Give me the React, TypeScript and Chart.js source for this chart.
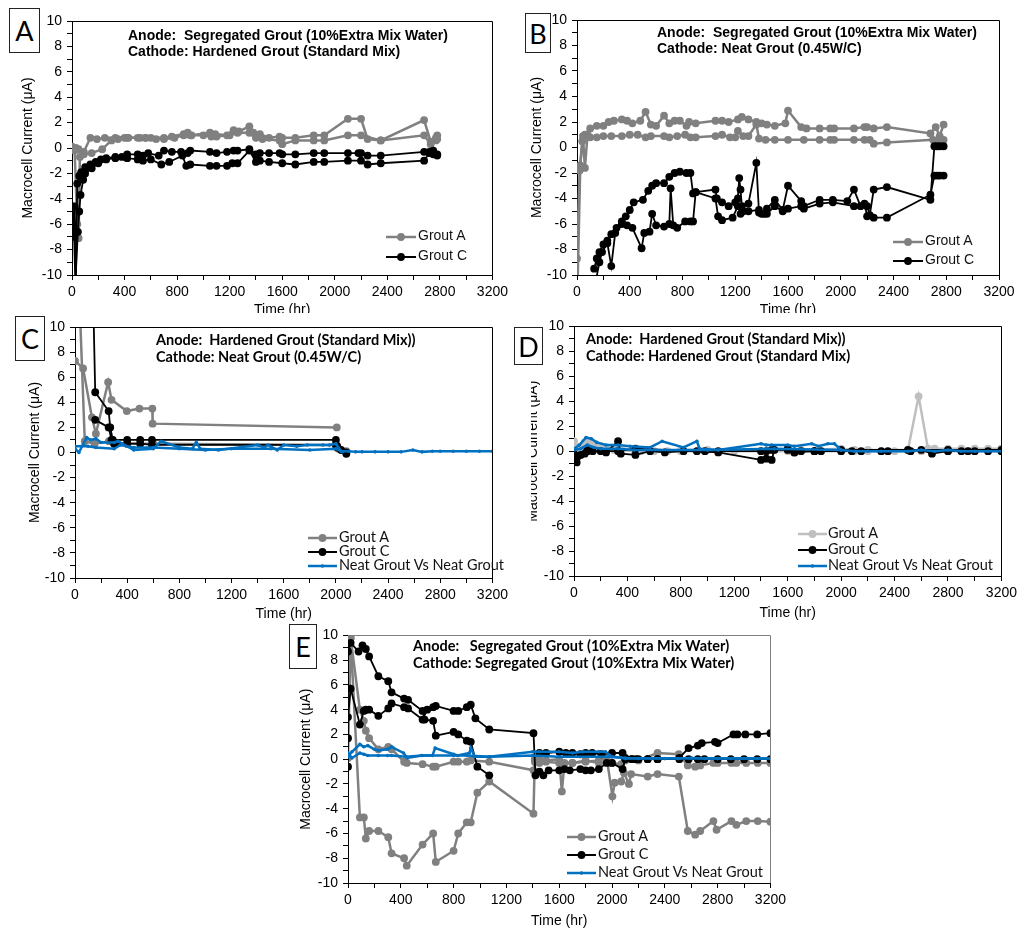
import React, { useEffect, useRef } from 'react';
import { Chart, registerables } from 'chart.js';
Chart.register(...registerables);

type Pt = [number, number | null];

// ---------- Axis ticks ----------
const X_TICK_STEP = 200;
const X_LABEL_EVERY = 400;
const Y_TICK_STEP = 1;
const Y_LABEL_EVERY = 2;

// ---------- Panel A ----------
const A_GROUT_A_1: Pt[] = [[0,0],[30,0],[50,-0.1],[90,-0.3],[140,0.8],[190,0.7],[250,0.8],[330,0.8],[400,0.8],[430,0.8],[520,0.8],[560,0.8],[600,0.8],[700,0.8],[760,0.9],[850,1.1],[880,1.2],[910,1.0],[1050,1.2],[1090,1.1],[1180,1.0],[1230,1.4],[1270,1.3],[1350,1.7],[1380,1.2],[1430,1.1],[1500,0.8],[1580,0.9],[1600,0.8],[1700,0.8],[1840,1.0],[1920,1.0],[2100,2.3],[2200,2.3],[2250,0.7],[2350,0.6],[2680,2.2],[2730,0.5],[2770,0.8],[2780,1.0]];
const A_GROUT_A_2: Pt[] = [[0,0.1],[20,-0.2],[40,-6.0],[50,-7.1],[60,-0.7],[90,-0.5],[150,-0.4],[230,-0.1],[300,0.6],[350,0.7],[420,0.8],[500,0.8],[560,0.8],[640,0.7],[700,0.7],[780,0.8],[850,1.0],[900,1.0],[1000,1.0],[1060,0.9],[1100,0.9],[1200,1.0],[1260,1.2],[1350,1.2],[1400,0.8],[1450,0.7],[1580,0.6],[1600,0.3],[1700,0.6],[1840,0.6],[1920,0.6],[2100,1.0],[2200,1.0],[2350,0.6],[2680,1.0],[2730,0.3],[2770,0.6],[2780,0.7]];
const A_GROUT_C_1: Pt[] = [[5,-7.0],[10,-6.1],[20,-4.6],[30,-10.5],[40,-2.8],[55,-2.2],[70,-1.9],[100,-1.5],[140,-1.3],[180,-1.1],[220,-0.9],[260,-0.8],[330,-0.7],[380,-0.7],[420,-0.5],[500,-0.5],[540,-0.6],[580,-0.4],[660,-0.6],[700,-0.2],[760,-0.3],[830,-0.3],[880,-0.4],[900,-0.2],[1050,-0.3],[1100,-0.4],[1180,-0.3],[1230,-0.2],[1260,-0.2],[1350,-0.1],[1400,-0.5],[1430,-0.4],[1500,-0.4],[1580,-0.4],[1600,-0.5],[1700,-0.5],[1840,-0.4],[1920,-0.4],[2100,-0.4],[2180,-0.4],[2200,-0.4],[2250,-0.6],[2350,-0.6],[2680,-0.3],[2720,-0.3],[2750,-0.2],[2780,-0.6]];
const A_GROUT_C_2: Pt[] = [[5,-4.6],[15,-6.5],[25,-10.5],[45,-6.6],[55,-5.0],[65,-3.7],[85,-2.5],[100,-2.0],[150,-1.6],[200,-1.2],[260,-0.9],[330,-0.8],[420,-0.8],[500,-0.9],[540,-1.0],[600,-0.9],[680,-1.3],[740,-1.1],[840,-0.6],[870,-1.4],[900,-1.3],[1050,-1.4],[1100,-1.4],[1180,-1.4],[1220,-1.2],[1260,-1.2],[1350,-0.2],[1400,-1.1],[1430,-1.0],[1500,-1.1],[1600,-1.2],[1700,-1.3],[1840,-1.1],[1920,-1.1],[2100,-1.0],[2200,-1.0],[2250,-1.3],[2350,-1.2],[2680,-1.0],[2720,-0.4],[2750,-0.5],[2780,-0.5]];

// ---------- Panel B ----------
const B_GROUT_A_1: Pt[] = [[0,-8.7],[20,-1.8],[40,0.5],[60,1.0],[100,1.5],[150,1.7],[200,1.7],[240,2.0],[280,2.1],[340,2.2],[380,2.1],[420,1.9],[480,2.1],[520,2.8],[560,1.8],[600,1.7],[660,2.5],[700,1.9],[740,2.1],[780,2.1],[830,1.7],[850,2.0],[900,1.9],[1050,2.1],[1100,2.1],[1150,2.0],[1220,2.2],[1250,2.4],[1300,2.2],[1360,2.0],[1400,1.9],[1440,1.8],[1500,1.7],[1580,1.9],[1600,2.9],[1700,1.6],[1740,1.5],[1840,1.5],[1920,1.5],[1950,1.5],[2100,1.5],[2180,1.6],[2200,1.6],[2250,1.5],[2350,1.6],[2680,1.1],[2720,1.6],[2750,0.9],[2780,1.8]];
const B_GROUT_A_2: Pt[] = [[5,-10.5],[25,-1.4],[45,0.9],[60,-1.6],[80,1.0],[100,0.8],[150,0.8],[200,0.9],[260,0.9],[340,0.9],[400,1.0],[460,1.0],[520,0.8],[560,0.9],[660,0.9],[700,0.8],[760,0.9],[820,1.0],[860,0.8],[900,0.8],[1050,0.9],[1100,1.0],[1160,0.8],[1200,0.8],[1220,1.3],[1260,0.9],[1300,0.9],[1360,1.8],[1380,0.7],[1430,0.6],[1500,0.6],[1600,0.6],[1720,0.6],[1840,0.6],[1920,0.6],[1950,0.6],[2100,0.6],[2180,0.6],[2220,0.6],[2250,0.3],[2350,0.4],[2700,0.6],[2750,0.6],[2780,0.6]];
const B_GROUT_C_1: Pt[] = [[130,-9.5],[150,-8.7],[170,-8.2],[200,-7.6],[230,-7.3],[260,-6.8],[300,-6.3],[340,-5.8],[370,-5.4],[400,-4.9],[430,-4.3],[500,-4.1],[540,-3.4],[570,-3.0],[600,-2.8],[660,-2.8],[700,-2.3],[740,-2.0],[780,-1.9],[830,-2.0],[860,-2.0],[880,-3.6],[900,-3.5],[1050,-3.3],[1060,-4.0],[1100,-4.3],[1150,-4.6],[1200,-4.3],[1220,-4.0],[1230,-2.4],[1240,-3.3],[1250,-4.6],[1300,-4.4],[1360,-1.2],[1380,-5.1],[1420,-5.2],[1440,-4.8],[1500,-4.1],[1560,-4.9],[1600,-3.0],[1700,-4.2],[1720,-4.6],[1840,-4.1],[1940,-4.1],[2050,-4.2],[2100,-3.3],[2150,-4.6],[2200,-4.6],[2220,-5.3],[2250,-3.3],[2350,-3.1],[2680,-4.1],[2710,0.1],[2730,0.1],[2750,0.1],[2780,0.1]];
const B_GROUT_C_2: Pt[] = [[140,-10.6],[170,-9.0],[190,-8.2],[230,-7.5],[260,-9.3],[290,-6.7],[340,-6.0],[380,-6.1],[420,-6.3],[490,-7.9],[510,-6.7],[550,-6.6],[570,-5.2],[600,-6.1],[660,-6.2],[700,-6.0],[710,-3.2],[730,-6.1],[760,-6.3],[820,-5.8],[860,-5.8],[880,-5.8],[900,-3.5],[1050,-4.0],[1070,-5.4],[1100,-5.7],[1180,-5.5],[1220,-4.6],[1240,-5.2],[1260,-5.0],[1300,-5.0],[1380,-4.9],[1400,-5.2],[1440,-5.2],[1500,-4.6],[1560,-5.0],[1600,-4.8],[1700,-4.6],[1720,-4.8],[1840,-4.4],[1940,-4.3],[2100,-4.6],[2180,-4.4],[2200,-5.4],[2250,-5.5],[2350,-5.5],[2680,-3.7],[2710,-2.2],[2730,-2.2],[2750,-2.2],[2780,-2.2]];

// ---------- Panel C ----------
const C_GROUT_A_1: Pt[] = [[0,7.3],[62,6.7],[130,2.8],[160,1.5],[254,5.6],[280,4.2],[397,3.3],[494,3.5],[593,3.5],[595,2.3],[2007,2.0]];
const C_GROUT_A_2: Pt[] = [[35,12],[75,0.9],[150,0.7],[260,0.9],[300,0.7],[600,0.7],[2000,0.6],[2020,0.3],[2080,0.1]];
const C_GROUT_C_1: Pt[] = [[140,12],[155,4.8],[258,3.3],[270,2.0],[290,1.0],[400,1.0],[500,1.0],[590,1.0],[2000,1.0],[2010,0.4],[2040,0.2],[2080,0.0]];
const C_GROUT_C_2: Pt[] = [[155,2.6],[258,2.0],[280,1.0],[300,0.7],[400,0.7],[500,0.7],[590,0.6],[2000,0.6],[2010,0.5],[2080,-0.1]];
const C_NEAT_1: Pt[] = [[0,0.3],[30,0.0],[90,1.2],[120,1.0],[160,1.1],[200,0.8],[300,0.8],[330,0.9],[450,0.2],[600,0.3],[660,0.9],[800,0.4],[900,0.3],[930,0.8],[960,0.3],[1100,0.2],[1400,0.6],[1450,0.4],[1480,0.6],[1550,0.2],[1600,0.6],[1700,0.5],[1780,0.6],[1900,0.6],[1950,0.6],[2000,0.7],[2040,0.1],[2100,0.1],[2150,0.05],[2200,0.05],[2300,0.05],[2400,0.05],[2500,0.05],[2590,0.2],[2660,0.05],[2740,0.1],[2800,0.1],[2900,0.1],[3000,0.1],[3100,0.1],[3200,0.1]];
const C_NEAT_2: Pt[] = [[0,0.5],[50,0.5],[100,0.5],[160,0.4],[300,0.3],[350,0.6],[450,0.4],[600,0.4],[800,0.3],[1000,0.2],[1200,0.3],[1500,0.3],[1800,0.2],[2000,0.3],[2050,0.05]];

// ---------- Panel D ----------
const D_GROUT_A_1: Pt[] = [[0,0.8],[30,0.3],[80,0.7],[120,0.8],[160,0.6],[200,0.4],[330,0.3],[450,0.1],[600,0.0],[700,0.0],[800,0.1],[1000,0.1],[1500,0.1],[1700,0.1],[2000,0.2],[2100,0.1],[2200,0.1],[2500,0.1],[2580,4.4],[2650,0.2],[2700,0.2],[2800,0.2],[2900,0.2],[3000,0.2],[3100,0.2],[3200,0.2]];
const D_GROUT_A_2: Pt[] = [[0,0.2],[50,0.2],[100,0.3],[200,0.2],[300,0.1],[500,0.0],[800,0.0],[1200,0.0],[1600,0.0],[2000,0.0],[2100,0.0],[2200,0.0],[2300,0.0],[2400,0.0],[2600,0.0],[2800,0.0],[3000,0.0],[3200,0.0]];
const D_GROUT_C_1: Pt[] = [[0,-0.5],[20,-0.9],[50,-0.3],[80,-0.2],[100,0.1],[140,0.0],[240,-0.1],[330,0.8],[350,-0.2],[460,-0.3],[570,0.0],[680,-0.1],[820,0.0],[920,0.0],[980,0.0],[1080,0.0],[1400,0.0],[1440,0.0],[1480,0.1],[1600,0.1],[1650,-0.1],[1700,0.0],[1800,0.0],[1850,0.0],[2000,0.0],[2080,0.0],[2150,0.0],[2300,0.0],[2350,0.0],[2520,0.0],[2600,0.1],[2680,-0.2],[2800,0.0],[2900,0.0],[2950,0.0],[3000,0.0],[3100,0.0],[3200,0.0]];
const D_GROUT_C_2: Pt[] = [[0,-0.2],[30,-0.4],[100,0.0],[200,0.0],[330,0.0],[460,0.2],[1080,-0.1],[1400,-0.7],[1440,-0.6],[1480,-0.7],[1500,0.1],[1600,0.2],[1650,-0.1],[1800,0.0],[2000,0.1],[2500,0.1],[2800,0.1],[3200,0.1]];
const D_NEAT_1: Pt[] = [[0,0.2],[40,0.5],[90,1.1],[130,1.0],[170,0.7],[240,0.5],[330,0.5],[420,0.4],[570,0.3],[660,0.8],[820,0.3],[920,0.8],[940,0.2],[1080,0.1],[1400,0.6],[1440,0.5],[1480,0.5],[1600,0.5],[1650,0.4],[1780,0.6],[1830,0.4],[1900,0.6],[1950,0.6],[2000,0.1],[2100,0.0],[2200,0.0],[2300,0.0],[2500,0.0],[2600,0.1],[2700,0.0],[2800,0.1],[2900,0.0],[3000,0.0],[3100,0.0],[3200,0.0]];
const D_NEAT_2: Pt[] = [[0,0.1],[50,0.2],[100,0.5],[150,0.3],[200,0.2],[330,0.2],[450,0.1],[1000,0.1],[1500,0.2],[2000,0.1]];

// ---------- Panel E ----------
const E_GROUT_A_1: Pt[] = [[0,0.1],[20,9.8],[90,-4.7],[120,-4.7],[135,-6.4],[160,-5.8],[230,-5.8],[305,-6.3],[330,-7.6],[425,-8.0],[445,-8.6],[565,-6.9],[645,-6.0],[665,-8.3],[800,-7.4],[835,-6.0],[900,-5.1],[930,-5.1],[980,-2.7],[1070,-1.8],[1405,-4.4],[1415,0.0],[1450,0.0],[1500,-0.1],[1600,0.0],[1620,-2.6],[1640,-0.3],[1700,-0.3],[1800,-0.2],[1900,-0.1],[1960,0.1],[2003,-3.0],[2020,-1.9],[2070,-1.8],[2090,-1.1],[2128,-2.0],[2145,-1.2],[2270,-1.4],[2345,-1.2],[2506,-1.4],[2574,-5.8],[2630,-6.1],[2668,-5.8],[2768,-5.0],[2792,-5.7],[2905,-5.0],[2942,-5.3],[3017,-5.0],[3104,-5.0],[3200,-5.05]];
const E_GROUT_A_2: Pt[] = [[20,9.8],[90,4.0],[120,3.1],[135,2.3],[160,1.7],[230,0.8],[305,1.0],[330,0.8],[425,-0.2],[445,-0.3],[565,-0.4],[645,-0.6],[665,-0.6],[800,-0.2],[835,-0.2],[900,-0.2],[930,-0.1],[1070,-0.2],[1405,-0.9],[1415,-0.2],[1450,-0.3],[1500,-0.2],[1600,-0.3],[1700,-0.3],[1800,-0.1],[1900,-0.3],[2000,-0.3],[2070,-0.4],[2100,-0.1],[2200,-0.1],[2345,0.5],[2506,0.4],[2574,-0.5],[2630,-0.6],[2668,-0.5],[2768,-0.3],[2800,-0.3],[2905,-0.3],[2942,-0.3],[3017,-0.3],[3104,-0.3],[3200,-0.3]];
const E_GROUT_C_1: Pt[] = [[0,1.7],[0,8.7],[20,9.4],[80,8.7],[110,9.2],[135,8.9],[160,8.3],[230,6.7],[305,6.3],[330,5.4],[425,4.9],[455,4.8],[565,3.9],[580,3.2],[645,3.1],[665,1.9],[800,2.2],[835,2.0],[900,1.5],[930,1.4],[980,-0.6],[1070,-1.3],[1260,null],[1450,0.5],[1500,0.5],[1600,0.6],[1650,0.5],[1700,0.5],[1760,0.4],[1800,0.5],[1850,0.5],[1920,0.4],[2000,0.5],[2080,0.5],[2100,0.1],[2150,0.0],[2180,0.0],[2270,0.0],[2345,0.0],[2510,0.1],[2580,0.9],[2650,1.1],[2680,1.3],[2780,1.4],[2800,1.3],[2920,2.0],[2950,2.0],[3010,2.0],[3100,2.0],[3200,2.1]];
const E_GROUT_C_2: Pt[] = [[0,-0.6],[0,3.4],[20,5.7],[90,2.8],[120,3.9],[135,4.0],[160,4.0],[230,3.5],[305,4.1],[330,4.5],[425,4.2],[455,4.1],[565,3.2],[600,4.0],[645,4.2],[665,4.3],[800,3.9],[835,3.9],[900,4.2],[930,4.4],[965,3.3],[1070,2.4],[1405,2.1],[1420,-1.3],[1450,-1.0],[1480,-1.3],[1520,-0.9],[1600,-0.9],[1640,-0.8],[1680,-0.9],[1760,-0.8],[1800,-0.9],[1840,-0.9],[1900,-0.8],[1960,-0.3],[2000,-0.3],[2080,-0.8],[2100,0.0],[2150,0.0],[2200,0.0],[2270,0.0],[2345,0.0],[2510,0.0],[2580,0.0],[2650,0.0],[2700,0.0],[2800,0.0],[2900,0.0],[3000,0.0],[3100,0.0],[3200,0.0]];
const E_NEAT_1: Pt[] = [[0,0.2],[30,0.6],[90,1.2],[120,1.0],[150,1.1],[200,0.8],[230,0.7],[300,0.8],[330,1.0],[420,0.5],[450,0.1],[560,0.3],[640,0.3],[660,0.9],[800,0.4],[830,0.3],[920,0.5],[930,0.9],[960,0.2],[1070,0.2],[1400,0.6],[1450,0.6],[1600,0.6],[1700,0.5],[1780,0.6],[1900,0.6],[1950,0.6],[2000,0.2],[2100,0.05],[2200,0.05],[2300,0.05],[2400,0.05],[2500,0.05],[2600,0.1],[2700,0.05],[2800,0.05],[2900,0.05],[3000,0.05],[3100,0.05],[3200,0.05]];
const E_NEAT_2: Pt[] = [[0,0.5],[30,0.1],[90,0.5],[120,0.4],[150,0.3],[230,0.3],[300,0.3],[330,0.3],[440,0.2],[560,0.3],[800,0.3],[900,0.3],[1070,0.2],[1400,0.3],[1600,0.2],[2000,0.2],[2100,0.1],[3200,0.05]];

// ---------- Labels ----------
const X_TITLE = 'Time (hr)';
const Y_TITLE = 'Macrocell Current (μA)';
const LABEL_GROUT_A = 'Grout A';
const LABEL_GROUT_C = 'Grout C';
const LABEL_NEAT = 'Neat Grout Vs Neat Grout';

const GRAY = '#808080';
const LIGHT_GRAY = '#bfbfbf';
const BLACK = '#000000';
const BLUE = '#0070C0';

const ARIAL = '"Liberation Sans", Arial, sans-serif';
const CALIBRI = 'Lato, "Open Sans", sans-serif';
const FS = 14;
const LH = FS * 1.2;

interface Series { data: Pt[]; color: string; r: number; lw: number; order: number }
interface Rect { x: number; y: number; w: number; h: number }
interface Panel {
  z: number;
  canvas: Rect;
  plot: { l: number; t: number; r: number; b: number };
  yTitleX: number;
  xTitleY: number;
  frame: string;
  series: Series[];
}

const gA = (d: Pt[], c = GRAY): Series => ({ data: d, color: c, r: 3.9, lw: 2.5, order: 3 });
const gC = (d: Pt[]): Series => ({ data: d, color: BLACK, r: 3.9, lw: 1.8, order: 2 });
const gN = (d: Pt[]): Series => ({ data: d, color: BLUE, r: 1.8, lw: 2.5, order: 1 });

const PANELS: Record<string, Panel> = {
  A: { z: 1, canvas: { x: 0, y: 0, w: 512, h: 330 }, plot: { l: 72, t: 21, r: 493, b: 275 }, yTitleX: 28, xTitleY: 310, frame: '#000',
    series: [gC(A_GROUT_C_1), gC(A_GROUT_C_2), gA(A_GROUT_A_1), gA(A_GROUT_A_2)] },
  B: { z: 2, canvas: { x: 515, y: 0, w: 506, h: 330 }, plot: { l: 577, t: 20, r: 999, b: 275 }, yTitleX: 537, xTitleY: 310, frame: '#000',
    series: [gC(B_GROUT_C_1), gC(B_GROUT_C_2), gA(B_GROUT_A_1), gA(B_GROUT_A_2)] },
  C: { z: 3, canvas: { x: 0, y: 313, w: 512, h: 317 }, plot: { l: 75, t: 327, r: 507, b: 578 }, yTitleX: 35, xTitleY: 614, frame: '#000',
    series: [gN(C_NEAT_1), gN(C_NEAT_2), gC(C_GROUT_C_1), gC(C_GROUT_C_2), gA(C_GROUT_A_1), gA(C_GROUT_A_2)] },
  D: { z: 4, canvas: { x: 518, y: 313, w: 503, h: 317 }, plot: { l: 574, t: 326, r: 1004, b: 576 }, yTitleX: 533, xTitleY: 613, frame: '#000',
    series: [gN(D_NEAT_1), gN(D_NEAT_2), gC(D_GROUT_C_1), gC(D_GROUT_C_2), gA(D_GROUT_A_1, LIGHT_GRAY), gA(D_GROUT_A_2, LIGHT_GRAY)] },
  E: { z: 5, canvas: { x: 290, y: 622, w: 500, h: 315 }, plot: { l: 348, t: 631, r: 776, b: 883 }, yTitleX: 306, xTitleY: 921, frame: '#7f7f7f',
    series: [gN(E_NEAT_1), gN(E_NEAT_2), gC(E_GROUT_C_1), gC(E_GROUT_C_2), gA(E_GROUT_A_1), gA(E_GROUT_A_2)] },
};

const bgPlugin = {
  id: 'whiteBg',
  beforeDraw(chart: any) {
    const { ctx, width, height } = chart;
    ctx.save();
    ctx.fillStyle = '#ffffff';
    ctx.fillRect(0, 0, width, height);
    ctx.restore();
  },
};

const framePlugin = {
  id: 'frame',
  afterDraw(chart: any, _args: any, opts: any) {
    const { ctx, chartArea: a } = chart;
    ctx.save();
    ctx.strokeStyle = opts.color || '#000';
    ctx.lineWidth = 1;
    ctx.beginPath();
    const t = Math.round(a.top) + 0.5;
    const r = Math.round(a.right) + 0.5;
    ctx.moveTo(a.left, t);
    ctx.lineTo(r, t);
    ctx.lineTo(r, a.bottom);
    ctx.stroke();
    ctx.restore();
  },
};

function PanelChart({ p }: { p: Panel }) {
  const ref = useRef<HTMLCanvasElement>(null);
  useEffect(() => {
    const scaleLeft = p.yTitleX - 4 - LH / 2;
    const padLeft = scaleLeft - p.canvas.x;
    const yWidth = p.plot.l - scaleLeft;
    const padTop = p.plot.t - p.canvas.y;
    const padRight = p.canvas.x + p.canvas.w - p.plot.r;
    const xBottom = p.xTitleY + 4 + LH / 2;
    const xHeight = xBottom - p.plot.b;
    const padBottom = p.canvas.y + p.canvas.h - xBottom;
    const axisGrid = { display: true, drawOnChartArea: false, drawTicks: true, tickLength: 5, color: '#000', tickColor: '#000', lineWidth: 1 };
    const chart = new Chart(ref.current!, {
      type: 'line',
      data: {
        datasets: p.series.map((s) => ({
          data: s.data.map(([x, y]) => ({ x, y })),
          borderColor: s.color,
          backgroundColor: s.color,
          pointBackgroundColor: s.color,
          pointBorderColor: s.color,
          pointBorderWidth: 0,
          pointRadius: s.r,
          pointHoverRadius: s.r,
          borderWidth: s.lw,
          tension: 0,
          fill: false,
          spanGaps: false,
          order: s.order,
        })),
      },
      options: {
        animation: false,
        responsive: false,
        maintainAspectRatio: false,
        events: [],
        layout: { padding: { left: padLeft, top: padTop, right: padRight, bottom: padBottom }, autoPadding: false } as any,
        plugins: { legend: { display: false }, tooltip: { enabled: false }, frame: { color: p.frame } } as any,
        scales: {
          x: {
            type: 'linear', min: 0, max: 3200, offset: false,
            afterFit: (s: any) => { s.height = xHeight; },
            ticks: { stepSize: X_TICK_STEP, autoSkip: false, maxRotation: 0, minRotation: 0, padding: 4, color: '#000', font: { family: ARIAL, size: FS },
              callback: (v: any) => (Number(v) % X_LABEL_EVERY === 0 ? String(v) : '') },
            grid: axisGrid,
            border: { display: true, color: '#000', width: 1 },
            title: { display: true, text: X_TITLE, color: '#000', font: { family: ARIAL, size: FS }, padding: { top: 4, bottom: 4 } },
          },
          y: {
            type: 'linear', min: -10, max: 10,
            afterFit: (s: any) => { s.width = yWidth; },
            ticks: { stepSize: Y_TICK_STEP, autoSkip: false, padding: 5, color: '#000', font: { family: ARIAL, size: FS },
              callback: (v: any) => (Math.round(Number(v)) % Y_LABEL_EVERY === 0 ? String(v) : '') },
            grid: axisGrid,
            border: { display: true, color: '#000', width: 1 },
            title: { display: true, text: Y_TITLE, color: '#000', font: { family: ARIAL, size: FS }, padding: { top: 4, bottom: 4 } },
          },
        } as any,
      },
      plugins: [bgPlugin, framePlugin],
    } as any);
    return () => chart.destroy();
  }, []);
  return (
    <canvas ref={ref} width={p.canvas.w} height={p.canvas.h}
      style={{ position: 'absolute', left: p.canvas.x, top: p.canvas.y, width: p.canvas.w, height: p.canvas.h, zIndex: p.z * 10 }} />
  );
}

function BoxLabel({ text, x, y, w, h, z }: { text: string; x: number; y: number; w: number; h: number; z: number }) {
  return (
    <div style={{ position: 'absolute', left: x, top: y, width: w, height: h, boxSizing: 'border-box', border: '1.3px solid #222',
      background: '#fff', zIndex: z, display: 'flex', alignItems: 'center', justifyContent: 'center',
      font: `400 27px ${CALIBRI}`, color: '#000' }}>{text}</div>
  );
}

function Note({ lines, x, y1, lh, font, z }: { lines: string[]; x: number; y1: number; lh: number; font: string; z: number }) {
  return (
    <div style={{ position: 'absolute', left: x, top: y1 - lh / 2, zIndex: z, font, lineHeight: `${lh}px`, whiteSpace: 'pre', color: '#000' }}>
      {lines.map((l, i) => <div key={i}>{l}</div>)}
    </div>
  );
}

interface LegItem { label: string; color: string; r: number; lw: number }
function Legend({ items, symX, symW, textX, rows, font, z }: { items: LegItem[]; symX: number; symW: number; textX: number; rows: number[]; font: string; z: number }) {
  return (
    <>
      {items.map((it, i) => (
        <React.Fragment key={i}>
          <svg style={{ position: 'absolute', left: symX, top: rows[i] - 6, zIndex: z }} width={symW} height={12}>
            <line x1={0} y1={6} x2={symW} y2={6} stroke={it.color} strokeWidth={it.lw} />
            <circle cx={symW / 2} cy={6} r={it.r} fill={it.color} />
          </svg>
          <div style={{ position: 'absolute', left: textX, top: rows[i] - 10, height: 20, lineHeight: '20px', zIndex: z, font, color: '#111', whiteSpace: 'pre' }}>{it.label}</div>
        </React.Fragment>
      ))}
    </>
  );
}

const LEG_A: LegItem = { label: LABEL_GROUT_A, color: GRAY, r: 3.9, lw: 2.5 };
const LEG_A_LIGHT: LegItem = { label: LABEL_GROUT_A, color: LIGHT_GRAY, r: 3.9, lw: 2.5 };
const LEG_C: LegItem = { label: LABEL_GROUT_C, color: BLACK, r: 3.9, lw: 2 };
const LEG_N: LegItem = { label: LABEL_NEAT, color: BLUE, r: 1.8, lw: 2.5 };

const NOTE_ARIAL = `bold ${FS}px ${ARIAL}`;
const NOTE_CAL = `bold 14.5px ${CALIBRI}`;
const LEG_ARIAL = `${FS}px ${ARIAL}`;
const LEG_CAL = `14.5px ${CALIBRI}`;

export default function App() {
  return (
    <div style={{ position: 'absolute', left: 0, top: 0, width: 1021, height: 930, background: '#fff', overflow: 'hidden' }}>
      {/* A */}
      <PanelChart p={PANELS.A} />
      <BoxLabel text="A" x={9} y={8} w={31} h={45} z={11} />
      <Note lines={['Anode:  Segregated Grout (10%Extra Mix Water)', 'Cathode: Hardened Grout (Standard Mix)']} x={128} y1={35} lh={16.7} font={NOTE_ARIAL} z={11} />
      <Legend items={[LEG_A, LEG_C]} symX={386} symW={30} textX={418} rows={[237, 257]} font={LEG_ARIAL} z={11} />
      {/* B */}
      <PanelChart p={PANELS.B} />
      <BoxLabel text="B" x={525} y={13} w={26} h={40} z={21} />
      <Note lines={['Anode:  Segregated Grout (10%Extra Mix Water)', 'Cathode: Neat Grout (0.45W/C)']} x={657} y1={32} lh={16.7} font={NOTE_ARIAL} z={21} />
      <Legend items={[LEG_A, LEG_C]} symX={893} symW={30} textX={925} rows={[242, 261]} font={LEG_ARIAL} z={21} />
      {/* C */}
      <PanelChart p={PANELS.C} />
      <BoxLabel text="C" x={15} y={316} w={30} h={45} z={31} />
      <Note lines={['Anode:  Hardened Grout (Standard Mix))', 'Cathode: Neat Grout (0.45W/C)']} x={156} y1={339} lh={17} font={NOTE_CAL} z={31} />
      <Legend items={[LEG_A, LEG_C, LEG_N]} symX={308} symW={29} textX={339} rows={[538, 552, 566]} font={LEG_CAL} z={31} />
      {/* D */}
      <PanelChart p={PANELS.D} />
      <div style={{ position: 'absolute', left: 510, top: 313, width: 21, height: 300, background: '#fff', zIndex: 41 }} />
      <BoxLabel text="D" x={514} y={327} w={29} h={38} z={42} />
      <Note lines={['Anode:  Hardened Grout (Standard Mix))', 'Cathode: Hardened Grout (Standard Mix)']} x={586} y1={338} lh={17} font={NOTE_CAL} z={42} />
      <Legend items={[LEG_A_LIGHT, LEG_C, LEG_N]} symX={798} symW={29} textX={828} rows={[534, 550, 566]} font={LEG_CAL} z={42} />
      {/* E */}
      <PanelChart p={PANELS.E} />
      <BoxLabel text="E" x={289} y={624} w={28} h={45} z={51} />
      <Note lines={['Anode:   Segregated Grout (10%Extra Mix Water)', 'Cathode: Segregated Grout (10%Extra Mix Water)']} x={413} y1={645} lh={17} font={NOTE_CAL} z={51} />
      <Legend items={[LEG_A, LEG_C, LEG_N]} symX={567} symW={29} textX={598} rows={[837, 855, 873]} font={LEG_CAL} z={51} />
    </div>
  );
}
